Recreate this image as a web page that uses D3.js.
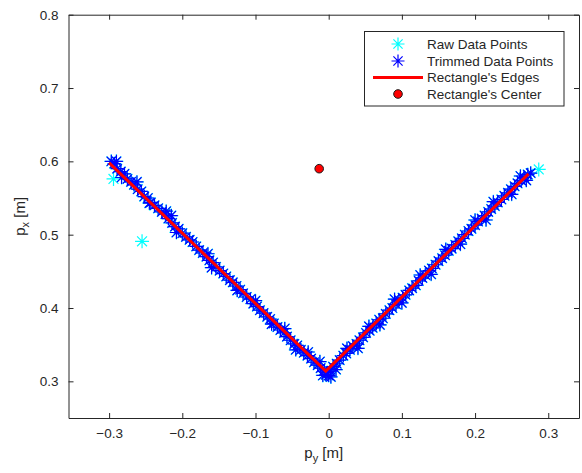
<!DOCTYPE html>
<html>
<head>
<meta charset="utf-8">
<script src="https://cdn.jsdelivr.net/npm/d3@7"></script>
<style>
  body { margin: 0; background: #fff; }
  text { font-family: "Liberation Sans", Arial, sans-serif; fill: #262626; }
</style>
</head>
<body>
<div id="chart"></div>
<script>
// trimmed points [p_y, p_x]
var trimmedLeft = [
  [-0.297, 0.600], [-0.293, 0.597], [-0.289, 0.590], [-0.284, 0.586], [-0.279, 0.583],
  [-0.275, 0.576], [-0.270, 0.572], [-0.266, 0.568], [-0.261, 0.562], [-0.256, 0.559],
  [-0.252, 0.552], [-0.247, 0.550], [-0.243, 0.544], [-0.238, 0.540], [-0.233, 0.536],
  [-0.228, 0.531], [-0.223, 0.528], [-0.219, 0.522], [-0.214, 0.516], [-0.210, 0.511],
  [-0.205, 0.508], [-0.200, 0.502], [-0.195, 0.497], [-0.190, 0.493], [-0.186, 0.490],
  [-0.181, 0.484], [-0.177, 0.479], [-0.172, 0.475], [-0.167, 0.470], [-0.163, 0.465],
  [-0.158, 0.462], [-0.154, 0.456], [-0.149, 0.451], [-0.144, 0.447], [-0.140, 0.443],
  [-0.135, 0.438], [-0.131, 0.435], [-0.126, 0.430], [-0.121, 0.425], [-0.117, 0.420],
  [-0.112, 0.415], [-0.107, 0.412], [-0.103, 0.406], [-0.098, 0.402], [-0.094, 0.397],
  [-0.089, 0.393], [-0.084, 0.388], [-0.080, 0.385], [-0.075, 0.379], [-0.070, 0.374],
  [-0.066, 0.370], [-0.061, 0.366], [-0.057, 0.361], [-0.052, 0.356], [-0.047, 0.351],
  [-0.043, 0.349], [-0.038, 0.343], [-0.034, 0.339], [-0.029, 0.335], [-0.024, 0.331],
  [-0.020, 0.326], [-0.015, 0.322], [-0.011, 0.318], [-0.006, 0.314], [-0.004, 0.309],
  [-0.002, 0.312],
  [-0.290, 0.600], [-0.283, 0.578], [-0.262, 0.572], [-0.245, 0.543], [-0.222, 0.532],
  [-0.215, 0.526], [-0.208, 0.503], [-0.165, 0.474], [-0.160, 0.455], [-0.125, 0.424],
  [-0.100, 0.410], [-0.078, 0.378], [-0.060, 0.372], [-0.045, 0.343], [-0.028, 0.340],
  [-0.012, 0.327], [0.000, 0.308], [-0.008, 0.308]
];
var trimmedRight = [
  [0.002, 0.314], [0.003, 0.306], [0.006, 0.320], [0.011, 0.324], [0.015, 0.329],
  [0.020, 0.335], [0.024, 0.338], [0.029, 0.343], [0.033, 0.348], [0.038, 0.351],
  [0.042, 0.356], [0.047, 0.360], [0.051, 0.366], [0.056, 0.369], [0.060, 0.373],
  [0.065, 0.379], [0.069, 0.384], [0.074, 0.386], [0.078, 0.392], [0.083, 0.397],
  [0.087, 0.400], [0.092, 0.405], [0.096, 0.411], [0.101, 0.414], [0.105, 0.418],
  [0.110, 0.424], [0.114, 0.427], [0.119, 0.431], [0.123, 0.437], [0.128, 0.441],
  [0.132, 0.445], [0.137, 0.451], [0.141, 0.454], [0.146, 0.459], [0.150, 0.464],
  [0.155, 0.468], [0.159, 0.472], [0.164, 0.478], [0.168, 0.481], [0.173, 0.486],
  [0.177, 0.491], [0.182, 0.495], [0.186, 0.500], [0.191, 0.505], [0.195, 0.508],
  [0.200, 0.513], [0.204, 0.518], [0.209, 0.522], [0.213, 0.526], [0.218, 0.531],
  [0.222, 0.535], [0.227, 0.539], [0.231, 0.544], [0.236, 0.548], [0.240, 0.553],
  [0.245, 0.557], [0.249, 0.562], [0.254, 0.566], [0.258, 0.570], [0.263, 0.574],
  [0.267, 0.578], [0.272, 0.582], [0.276, 0.584],
  [0.010, 0.316], [0.025, 0.345], [0.040, 0.345], [0.055, 0.375], [0.070, 0.377],
  [0.090, 0.412], [0.100, 0.407], [0.125, 0.445], [0.140, 0.446], [0.160, 0.480],
  [0.180, 0.487], [0.200, 0.520], [0.215, 0.520], [0.225, 0.545], [0.250, 0.555],
  [0.262, 0.580], [0.270, 0.574]
];
// points removed by trimming
var rawOutliers = [[-0.294, 0.576], [-0.255, 0.491], [0.287, 0.589]];
// fitted edges and centre
var edgeCorners = [[-0.300, 0.598], [-0.004, 0.314], [0.273, 0.583]];
var rectCenter = [-0.013, 0.590];

var xTicks = [-0.3, -0.2, -0.1, 0, 0.1, 0.2, 0.3];
var yTicks = [0.3, 0.4, 0.5, 0.6, 0.7, 0.8];
var legendItems = ["Raw Data Points", "Trimmed Data Points", "Rectangle's Edges", "Rectangle's Center"];

var W = 582, H = 473;
var box = {left: 68.5, right: 579, top: 14.7, bottom: 418};

var x = d3.scaleLinear().domain([-0.3555, 0.342]).range([box.left, box.right]);
var y = d3.scaleLinear().domain([0.25, 0.8]).range([box.bottom, box.top]);

var trimmed = trimmedLeft.concat(trimmedRight);
var raw = trimmed.concat(rawOutliers);

var svg = d3.select("#chart").append("svg")
  .attr("width", W).attr("height", H);

svg.append("rect").attr("x", 0).attr("y", 0).attr("width", W).attr("height", H).attr("fill", "#fff");

// asterisk marker like matlab '*'
function star(r) {
  var d = r * 0.7071;
  return "M" + (-r) + ",0L" + r + ",0M0," + (-r) + "L0," + r +
    "M" + (-d) + "," + (-d) + "L" + d + "," + d +
    "M" + (-d) + "," + d + "L" + d + "," + (-d);
}

var plot = svg.append("g");

plot.selectAll(".raw").data(raw).enter().append("path")
  .attr("class", "raw")
  .attr("d", star(7))
  .attr("transform", function(d) { return "translate(" + x(d[0]) + "," + y(d[1]) + ")"; })
  .attr("stroke", "#00ffff").attr("stroke-width", 1.2).attr("fill", "none");

plot.selectAll(".trim").data(trimmed).enter().append("path")
  .attr("class", "trim")
  .attr("d", star(6.5))
  .attr("transform", function(d) { return "translate(" + x(d[0]) + "," + y(d[1]) + ")"; })
  .attr("stroke", "#0000ff").attr("stroke-width", 1.2).attr("fill", "none");

plot.append("path")
  .datum(edgeCorners)
  .attr("d", d3.line().x(function(d) { return x(d[0]); }).y(function(d) { return y(d[1]); }))
  .attr("stroke", "#ff0000").attr("stroke-width", 3).attr("fill", "none");

plot.append("circle")
  .attr("cx", x(rectCenter[0])).attr("cy", y(rectCenter[1])).attr("r", 4.3)
  .attr("fill", "#ff0000").attr("stroke", "#1a1a1a").attr("stroke-width", 1);

// axes box and ticks
var axisCol = "#262626";
var bottomAxis = d3.axisBottom(x).tickValues(xTicks).tickSizeInner(-5).tickSizeOuter(0).tickPadding(10)
  .tickFormat(function(d) { return d === 0 ? "0" : d3.format(".1f")(d); });
var topAxis = d3.axisTop(x).tickValues(xTicks).tickSizeInner(-5).tickSizeOuter(0).tickFormat("");
var leftAxis = d3.axisLeft(y).tickValues(yTicks).tickSizeInner(-5).tickSizeOuter(0).tickPadding(10)
  .tickFormat(d3.format(".1f"));
var rightAxis = d3.axisRight(y).tickValues(yTicks).tickSizeInner(-5).tickSizeOuter(0).tickFormat("");

function styleAxis(g) {
  g.select(".domain").attr("stroke", axisCol).attr("stroke-width", 1);
  g.selectAll(".tick line").attr("stroke", axisCol);
  g.selectAll(".tick text").attr("fill", axisCol)
    .style("font-family", "'Liberation Sans', Arial, sans-serif").style("font-size", "13.5px");
}

svg.append("g").attr("transform", "translate(0," + box.bottom + ")").call(bottomAxis).call(styleAxis);
svg.append("g").attr("transform", "translate(0," + box.top + ")").call(topAxis).call(styleAxis);
svg.append("g").attr("transform", "translate(" + box.left + ",0)").call(leftAxis).call(styleAxis);
svg.append("g").attr("transform", "translate(" + box.right + ",0)").call(rightAxis).call(styleAxis);

// axis labels
var xl = svg.append("text").attr("x", (box.left + box.right) / 2).attr("y", 458)
  .attr("text-anchor", "middle").style("font-size", "15px");
xl.append("tspan").text("p");
xl.append("tspan").attr("dy", 4).style("font-size", "11px").text("y");
xl.append("tspan").attr("dy", -4).text(" [m]");

var yl = svg.append("text").attr("transform", "translate(25," + ((box.top + box.bottom) / 2) + ") rotate(-90)")
  .attr("text-anchor", "middle").style("font-size", "15px");
yl.append("tspan").text("p");
yl.append("tspan").attr("dy", 4).style("font-size", "11px").text("x");
yl.append("tspan").attr("dy", -4).text(" [m]");

// legend
var leg = svg.append("g");
leg.append("rect").attr("x", 364.5).attr("y", 31.5).attr("width", 199.5).attr("height", 74.5)
  .attr("fill", "#fff").attr("stroke", axisCol).attr("stroke-width", 1);
var rowY = [44, 61, 77.5, 94];
legendItems.forEach(function(name, i) {
  var cy = rowY[i];
  if (i === 0 || i === 1) {
    leg.append("path").attr("d", star(6.5)).attr("transform", "translate(398," + cy + ")")
      .attr("stroke", i === 0 ? "#00ffff" : "#0000ff").attr("stroke-width", 1.2).attr("fill", "none");
  } else if (i === 2) {
    leg.append("line").attr("x1", 373).attr("x2", 423).attr("y1", cy).attr("y2", cy)
      .attr("stroke", "#ff0000").attr("stroke-width", 3);
  } else {
    leg.append("circle").attr("cx", 398).attr("cy", cy).attr("r", 4.3)
      .attr("fill", "#ff0000").attr("stroke", "#1a1a1a").attr("stroke-width", 1);
  }
  leg.append("text").attr("x", 427).attr("y", cy + 4.8).style("font-size", "13.5px").text(name);
});
</script>
</body>
</html>
